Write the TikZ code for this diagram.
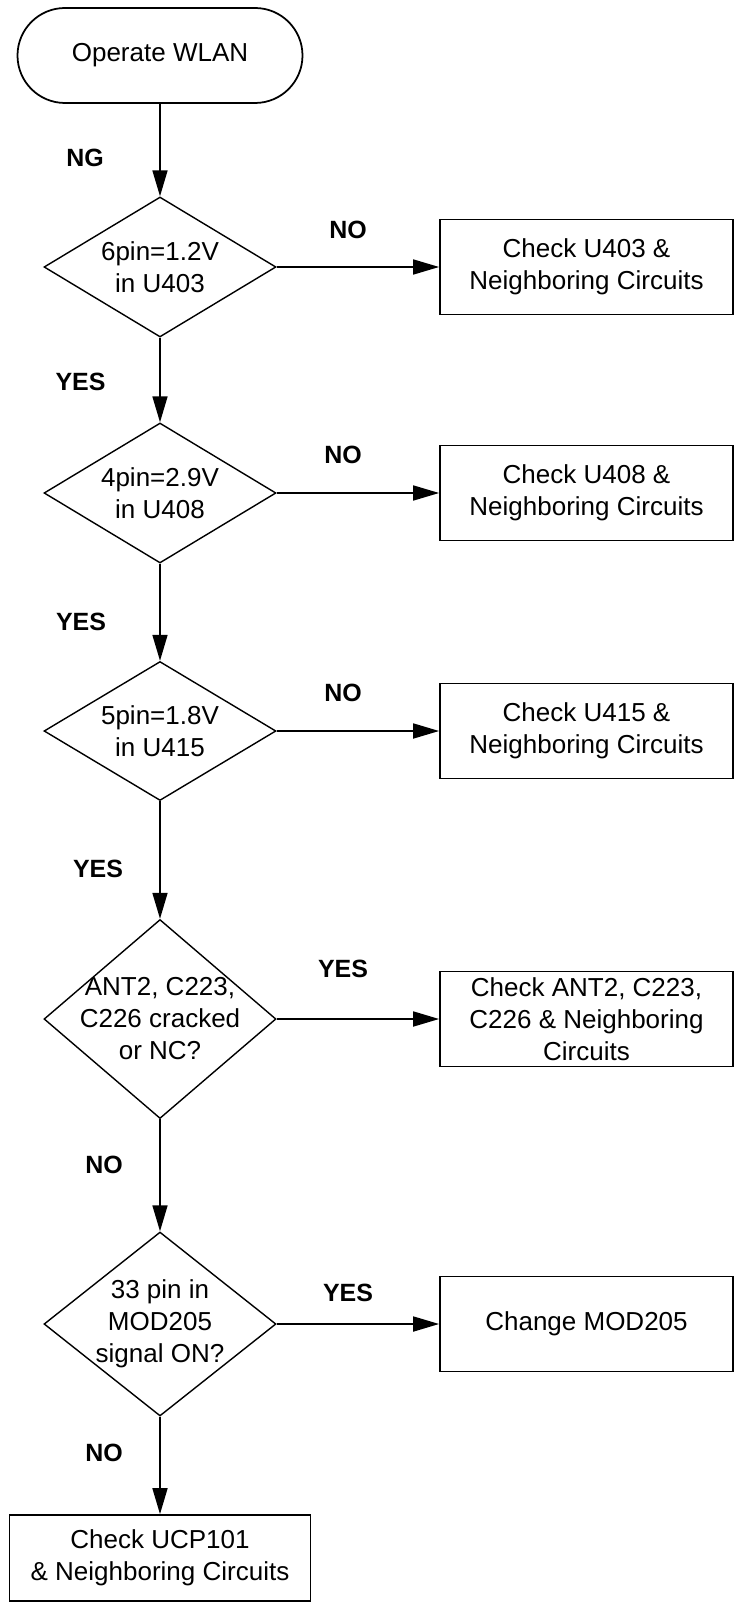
\documentclass[tikz,border=0pt]{standalone}
\usepackage{fontspec}
\setmainfont{Liberation Sans}
\usetikzlibrary{arrows.meta,shapes.geometric}

\newcommand{\boxfont}{\fontsize{14.8pt}{18.2pt}\selectfont}
\newcommand{\tagfont}{\fontsize{14.2pt}{17pt}\selectfont\bfseries}

\begin{document}
\begin{tikzpicture}[
        start/.style = {draw, line width=1pt, rounded corners=0.95cm, minimum width=5.7cm, minimum height=1.9cm, font=\boxfont},
        check/.style = {draw, line width=1pt, minimum width=5.86cm, minimum height=1.9cm, align=center, font=\boxfont},
        decision/.style = {diamond, draw, line width=0.8pt, inner sep=0pt, minimum width=4.64cm},
        ask/.style = {align=center, font=\boxfont},
        tag/.style = {font=\tagfont},
        flow/.style = {line width=1pt, -{Triangle[length=0.52cm, width=0.3cm]}}
    ]
        \useasboundingbox (0,0) rectangle (14.7,-32.08);
        % start
        \node[start](op)at(3.2,-1.11){Operate WLAN};
        % decisions
        \node[decision, minimum height=2.8cm, label={[ask]center:6pin=1.2V\\in U403}](d1)at(3.2,-5.34){};
        \node[decision, minimum height=2.8cm, label={[ask]center:4pin=2.9V\\in U408}](d2)at(3.2,-9.86){};
        \node[decision, minimum height=2.78cm, label={[ask]center:5pin=1.8V\\in U415}](d3)at(3.2,-14.62){};
        \node[decision, minimum height=3.98cm, label={[ask]center:ANT2, C223,\\C226 cracked\\or NC?}](d4)at(3.2,-20.38){};
        \node[decision, minimum height=3.68cm, label={[ask]center:33 pin in\\MOD205\\signal ON?}](d5)at(3.2,-26.48){};
        % checks
        \node[check](c1)at(11.73,-5.34){Check U403 \&\\Neighboring Circuits};
        \node[check](c2)at(11.73,-9.86){Check U408 \&\\Neighboring Circuits};
        \node[check](c3)at(11.73,-14.62){Check U415 \&\\Neighboring Circuits};
        \node[check](c4)at(11.73,-20.38){Check ANT2, C223,\\C226 \& Neighboring\\Circuits};
        \node[check](c5)at(11.73,-26.48){Change MOD205};
        \node[check, minimum width=6.02cm, minimum height=1.72cm](c6)at(3.2,-31.16){Check UCP101\\\& Neighboring Circuits};
        % answers
        \node[tag](ng)at(1.70,-3.16){NG};
        \node[tag](y1)at(1.61,-7.64){YES};
        \node[tag](y2)at(1.62,-12.44){YES};
        \node[tag](y3)at(1.96,-17.38){YES};
        \node[tag](n4)at(2.08,-23.30){NO};
        \node[tag](n5)at(2.08,-29.06){NO};
        \node[tag](n1)at(6.96,-4.60){NO};
        \node[tag](n2)at(6.86,-9.10){NO};
        \node[tag](n3)at(6.86,-13.86){NO};
        \node[tag](y4)at(6.86,-19.38){YES};
        \node[tag](y5)at(6.96,-25.86){YES};
        % arrows down
        \path[draw, flow](op)to(d1);
        \path[draw, flow](d1)to(d2);
        \path[draw, flow](d2)to(d3);
        \path[draw, flow](d3)to(d4);
        \path[draw, flow](d4)to(d5);
        \path[draw, flow](d5)to(c6);
        % arrows right
        \path[draw, flow](d1)to(c1);
        \path[draw, flow](d2)to(c2);
        \path[draw, flow](d3)to(c3);
        \path[draw, flow](d4)to(c4);
        \path[draw, flow](d5)to(c5);
\end{tikzpicture}
\end{document}
